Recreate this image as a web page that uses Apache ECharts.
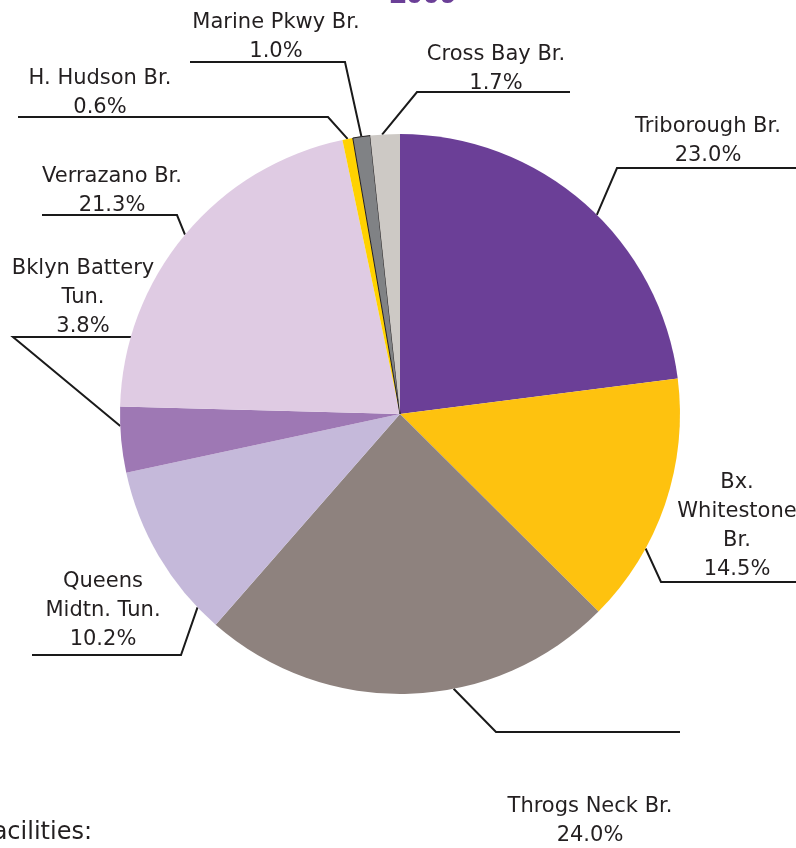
<!DOCTYPE html>
<html>
<head>
<meta charset="utf-8">
<title>Toll facilities share</title>
<script src="https://cdn.jsdelivr.net/npm/echarts@6/dist/echarts.min.js"></script>
<style>
  html, body { margin: 0; padding: 0; background: #ffffff; }
  #chart { width: 796px; height: 848px; }
</style>
</head>
<body>
<div id="chart"></div>
<script>
// Facility names (clockwise from 12 o'clock) and their share in percent
const facilities = [
  'Triborough Br.',
  'Bx.\nWhitestone\nBr.',
  'Throgs Neck Br.',
  'Queens\nMidtn. Tun.',
  'Bklyn Battery\nTun.',
  'Verrazano Br.',
  'H. Hudson Br.',
  'Marine Pkwy Br.',
  'Cross Bay Br.'
];
const shares = [23.0, 14.5, 24.0, 10.2, 3.8, 21.3, 0.6, 1.0, 1.7];
const sliceColors = [
  '#6b3f97', '#fec20f', '#8e827e', '#c5b9da', '#9e78b4',
  '#dfcbe3', '#ffd200', '#808285', '#cdc9c5'
];

// Leader-line layout per slice:
// [position along the slice arc (0..1), knee x, knee y, end x, end y, label x, label y]
const leaderLayout = [
  [0.54, 617, 168, 800, 168, 708, 141],
  [0.69, 661, 582, 800, 582, 737, 526],
  [0.395, 496, 732, 680, 732, 590, 821],
  [0.14, 181, 655, 32, 655, 103, 611],
  [0.71, 13, 337, 132, 337, 83, 298],
  [0.5, 177, 215, 42, 215, 112, 191],
  [0.5, 328, 117, 18, 117, 100, 93],
  [0.5, 345, 62, 190, 62, 276, 37],
  [0.4, 417, 92, 570, 92, 496, 69]
];

const CX = 400, CY = 414, R = 280;
const FONT = '"DejaVu Sans", "Liberation Sans", Arial, sans-serif';

// Angular extent of every slice (clockwise from the top, radians)
const total = shares.reduce((a, b) => a + b, 0);
const sliceStart = [];
let acc = 0;
shares.forEach(v => { sliceStart.push(acc); acc += v / total * Math.PI * 2; });

function edgePoint(i) {
  const span = shares[i] / total * Math.PI * 2;
  const a = sliceStart[i] + span * leaderLayout[i][0];
  return [CX + R * Math.sin(a), CY - R * Math.cos(a)];
}

const chart = echarts.init(document.getElementById('chart'), null, { renderer: 'canvas' });

chart.setOption({
  animation: false,
  backgroundColor: '#ffffff',
  graphic: [
    {
      type: 'text',
      style: {
        text: '2009',
        x: 423, y: -5,
        align: 'center',
        verticalAlign: 'middle',
        font: 'bold 30px "Liberation Sans", Arial, sans-serif',
        fill: '#6b3f97'
      }
    },
    {
      type: 'text',
      style: {
        text: 'Facilities:',
        x: 92, y: 833,
        align: 'right',
        verticalAlign: 'middle',
        font: '24px ' + FONT,
        fill: '#231f20'
      }
    }
  ],
  series: [{
    type: 'pie',
    center: [CX, CY],
    radius: R,
    startAngle: 90,
    clockwise: true,
    avoidLabelOverlap: false,
    silent: true,
    data: facilities.map((name, i) => ({
      name: name,
      value: shares[i],
      itemStyle: {
        color: sliceColors[i],
        borderColor: i === 7 ? '#231f20' : sliceColors[i],
        borderWidth: i === 7 ? 1 : 0
      }
    })),
    label: {
      show: true,
      position: 'outside',
      formatter: p => p.name + '\n' + p.value.toFixed(1) + '%',
      fontFamily: FONT,
      fontSize: 21,
      lineHeight: 29,
      color: '#231f20',
      align: 'center'
    },
    labelLine: {
      show: true,
      lineStyle: { color: '#1a1a1a', width: 2 }
    },
    labelLayout: function (params) {
      const i = params.dataIndex;
      const L = leaderLayout[i];
      return {
        x: L[5],
        y: L[6],
        align: 'center',
        verticalAlign: 'middle',
        labelLinePoints: [edgePoint(i), [L[1], L[2]], [L[3], L[4]]]
      };
    }
  }]
});
</script>
</body>
</html>
